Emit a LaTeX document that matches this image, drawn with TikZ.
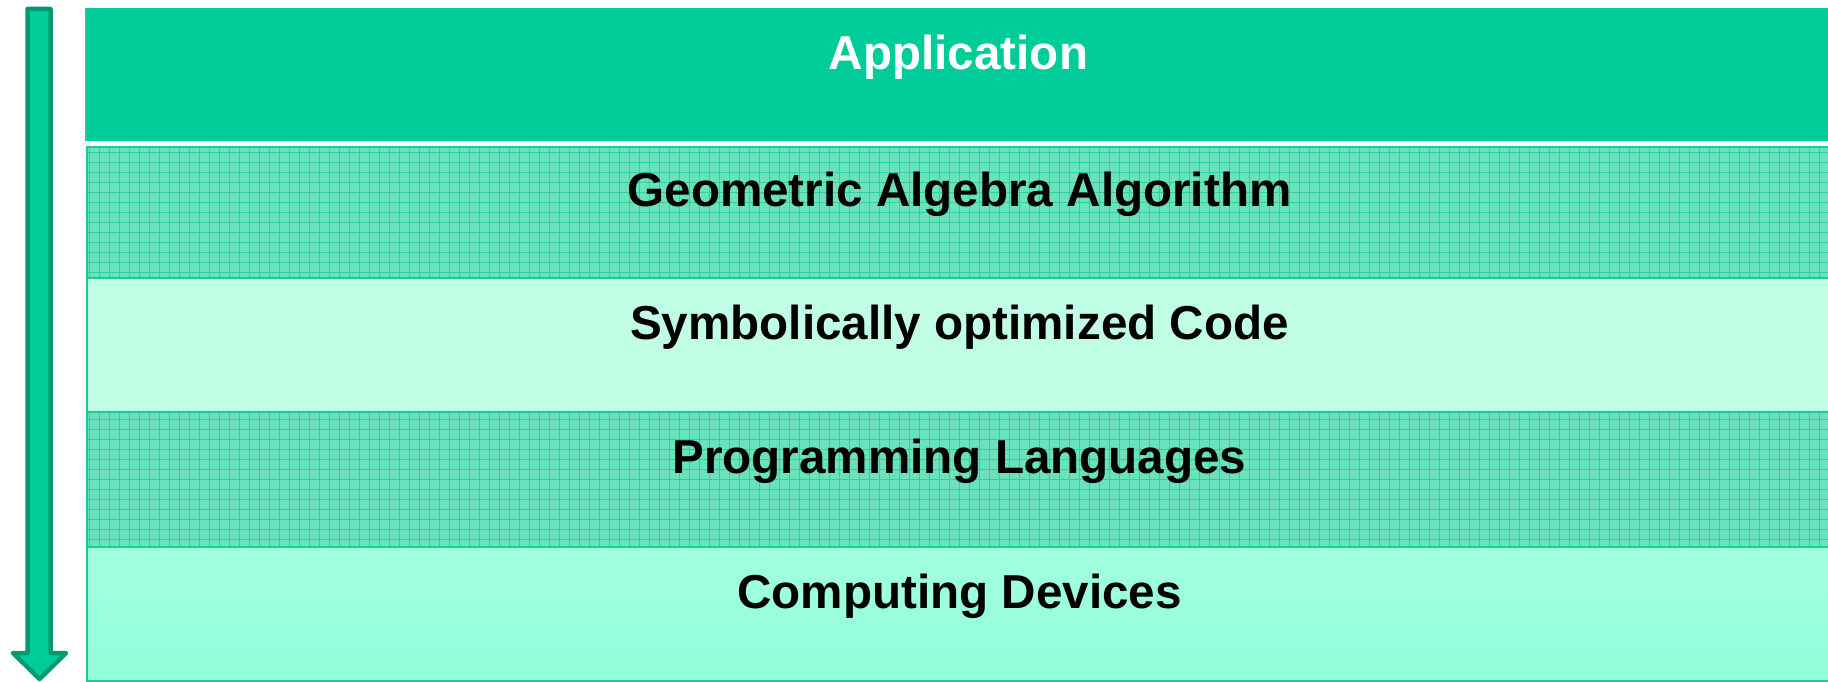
\documentclass[tikz,border=0pt]{standalone}
\usepackage{fontspec}
\setmainfont{Liberation Sans}
\definecolor{appgreen}{HTML}{00CC99}
\definecolor{patbase}{HTML}{6AE3BD}
\definecolor{patline}{HTML}{2FD1A0}
\definecolor{symfill}{HTML}{C0FFE6}
\definecolor{comptop}{HTML}{A2FFE0}
\definecolor{compbot}{HTML}{92FFD8}
\definecolor{bandline}{HTML}{1ACC98}
\definecolor{arrowdark}{HTML}{009A72}
\begin{document}
\begin{tikzpicture}[x=1pt,y=-1pt,
  band/.style={rectangle, anchor=north west, inner sep=0pt, outer sep=0pt,
    minimum width=1745pt, draw=bandline, line width=2pt},
  gridband/.style={band, fill=patbase,
    path picture={\draw[patline, line width=1.2pt]
      (path picture bounding box.south west) grid[step=10pt]
      (path picture bounding box.north east);}},
  layertext/.style={font=\fontsize{47.6}{57}\bfseries\selectfont, inner sep=0pt, yshift=18pt}
]
\useasboundingbox (0,0) rectangle (1828,682);
% direction arrow
\filldraw[fill=appgreen, draw=arrowdark, line width=4.5pt, line join=round]
  (27.5,9) -- (50.5,9) -- (50.5,653) -- (66,653) -- (39.5,679) -- (13,653) -- (27.5,653) -- cycle;
% layers
\node[band, fill=appgreen, draw=none, minimum height=133.5pt] (b1) at (86,8) {};
\node[gridband, minimum height=131pt] (b2) at (87,147) {};
\node[band, fill=symfill, minimum height=134pt] (b3) at (87,278) {};
\node[gridband, minimum height=135pt] (b4) at (87,412) {};
\node[band, top color=comptop, bottom color=compbot, minimum height=134pt] (b5) at (87,547) {};
\draw[bandline, line width=2pt] (b1.north west) -- (b1.south west);
% labels
\node[layertext, text=white] (t1) at (b1.center) {Application};
\node[layertext] (t2) at (b2.center) {Geometric Algebra Algorithm};
\node[layertext] (t3) at (b3.center) {Symbolically optimized Code};
\node[layertext] (t4) at (b4.center) {Programming Languages};
\node[layertext] (t5) at (b5.center) {Computing Devices};
\end{tikzpicture}
\end{document}
